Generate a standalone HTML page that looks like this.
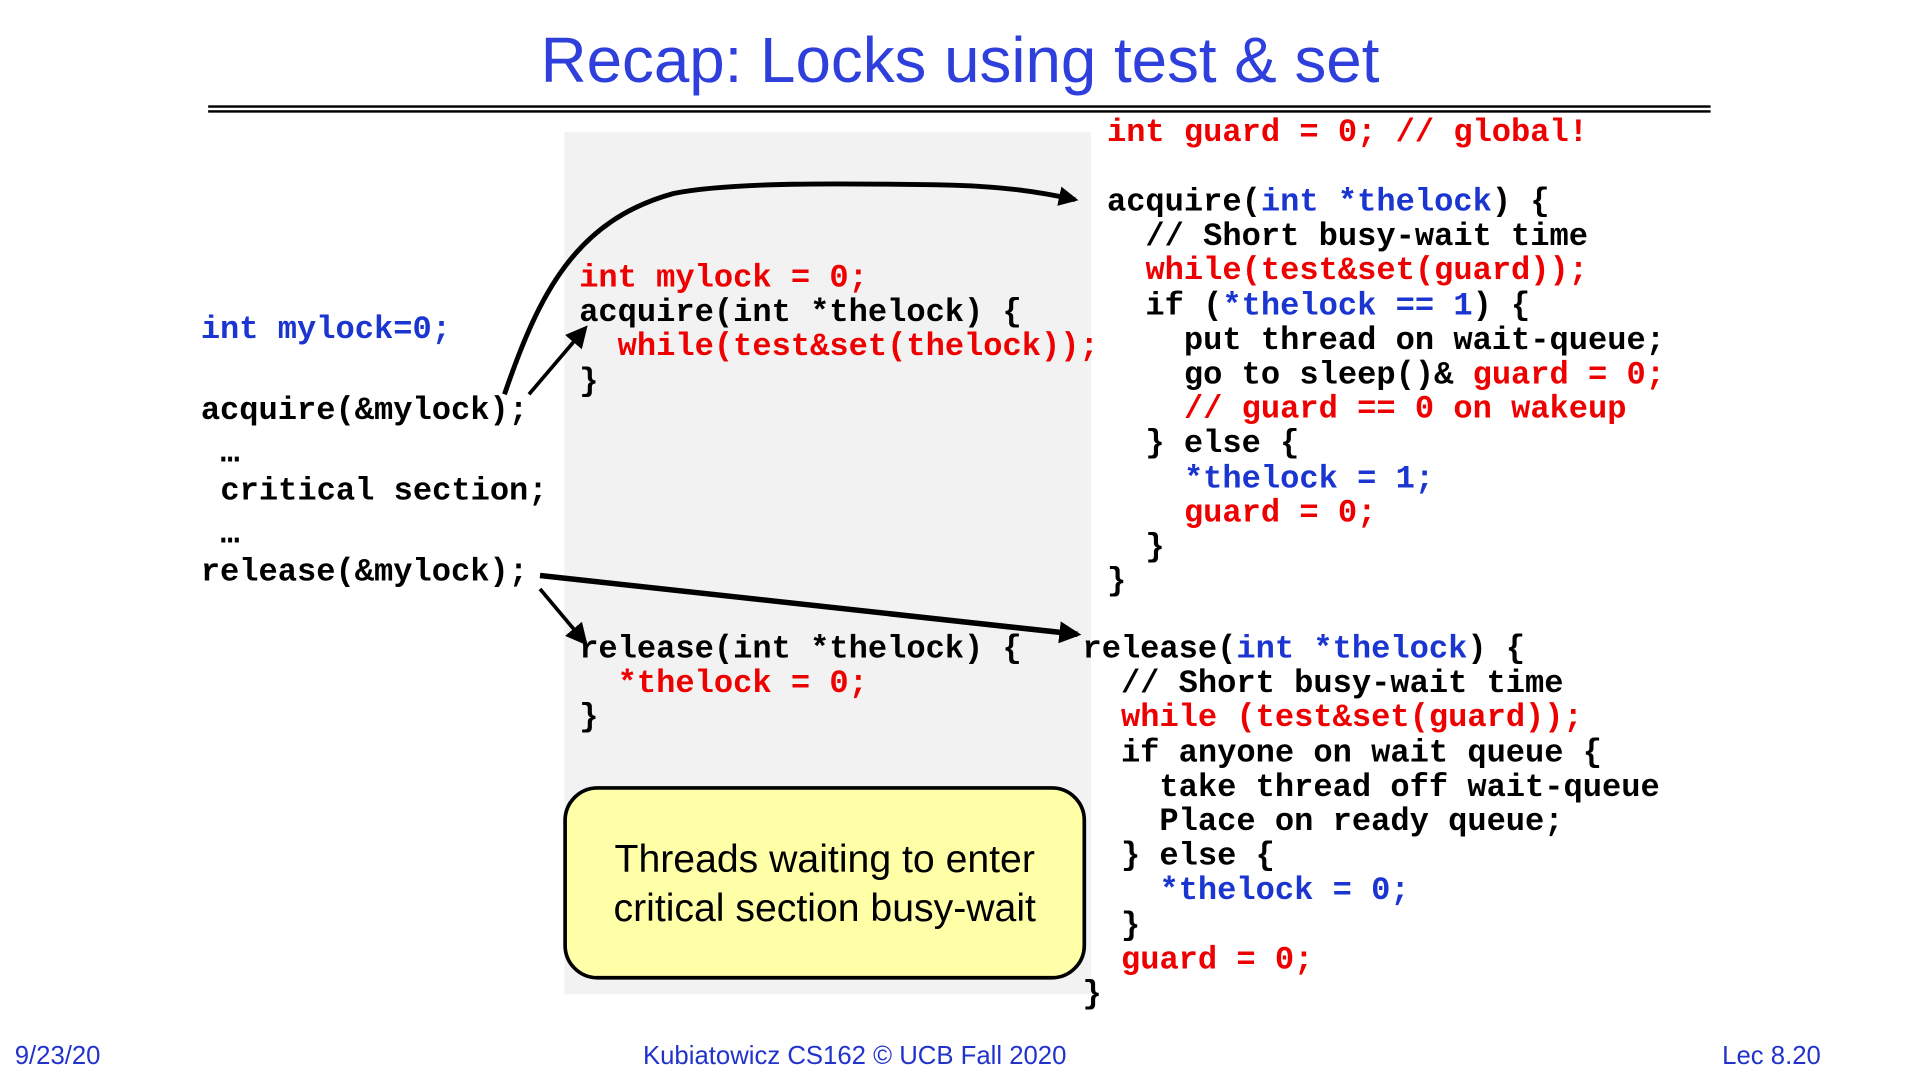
<!DOCTYPE html>
<html><head><meta charset="utf-8"><style>
html,body{margin:0;padding:0;background:#fff;width:1920px;height:1080px;overflow:hidden}
#s{position:absolute;left:0;top:0;width:1568px;height:882px;transform:scale(1.2245);transform-origin:0 0}
.c{position:absolute;font-family:"Liberation Mono",monospace;font-weight:bold;font-size:26.2px;line-height:28.2px;white-space:pre;color:#000}
.r{color:#ee0000}.b{color:#1a35d0}
.f{position:absolute;font-family:"Liberation Sans",sans-serif;color:#2233cc;font-size:21px;line-height:24px}
</style></head><body><div id="s">
<div style="position:absolute;left:0;width:1568px;top:19px;text-align:center;font-family:'Liberation Sans',sans-serif;font-size:52px;line-height:62px;color:#2e3fdc">Recap: Locks using test &amp; set</div>
<div style="position:absolute;left:170px;top:86px;width:1227px;height:2px;background:#000"></div>
<div style="position:absolute;left:170px;top:90px;width:1227px;height:2px;background:#000"></div>
<div style="position:absolute;left:461px;top:108px;width:430px;height:704px;background:#f2f2f2"></div>

<div class="c b" style="left:164px;top:255px">int mylock=0;</div>
<div class="c" style="left:164px;top:321px">acquire(&amp;mylock);</div>
<div class="c" style="left:180px;top:356px">…</div>
<div class="c" style="left:180px;top:387px">critical section;</div>
<div class="c" style="left:180px;top:422px">…</div>
<div class="c" style="left:164px;top:453px">release(&amp;mylock);</div>

<div class="c" style="left:473px;top:213px"><span class="r">int mylock = 0;</span>
acquire(int *thelock) {
  <span class="r">while(test&amp;set(thelock));</span>
}</div>
<div class="c" style="left:473px;top:516px">release(int *thelock) {
  <span class="r">*thelock = 0;</span>
}</div>

<div class="c r" style="left:904px;top:94px">int guard = 0; // global!</div>
<div class="c" style="left:904px;top:151px">acquire(<span class="b">int *thelock</span>) {
  // Short busy-wait time
  <span class="r">while(test&amp;set(guard));</span>
  if (<span class="b">*thelock == 1</span>) {
    put thread on wait-queue;
    go to sleep()&amp; <span class="r">guard = 0;</span>
    <span class="r">// guard == 0 on wakeup</span>
  } else {
    <span class="b">*thelock = 1;</span>
    <span class="r">guard = 0;</span>
  }
}</div>
<div class="c" style="left:884px;top:516px">release(<span class="b">int *thelock</span>) {
  // Short busy-wait time
  <span class="r">while (test&amp;set(guard));</span>
  if anyone on wait queue {
    take thread off wait-queue
    Place on ready queue;
  } else {
    <span class="b">*thelock = 0;</span>
  }
  <span class="r">guard = 0;</span>
}</div>

<div style="position:absolute;left:460px;top:642px;width:421px;height:152px;border:3px solid #000;border-radius:28px;background:#ffffa8"></div>
<div style="position:absolute;left:460px;top:681px;width:427px;text-align:center;font-family:'Liberation Sans',sans-serif;font-size:32px;line-height:40px;color:#000">Threads waiting to enter<br>critical section busy-wait</div>

<svg style="position:absolute;left:0;top:0" width="1568" height="882">
<defs><marker id="a" markerWidth="6" markerHeight="6" refX="5" refY="3" orient="auto" markerUnits="strokeWidth"><path d="M0,0 L6,3 L0,6 z" fill="#000"/></marker>
<marker id="a2" markerWidth="4" markerHeight="4" refX="3.3" refY="2" orient="auto" markerUnits="strokeWidth"><path d="M0,0 L4,2 L0,4 z" fill="#000"/></marker></defs>
<path d="M412,322 C440,240 470,180 550,158 C600,148 700,150 770,151 C820,152 850,157 878,163" stroke="#000" stroke-width="4" fill="none" marker-end="url(#a2)"/>
<line x1="432" y1="322" x2="478" y2="268" stroke="#000" stroke-width="3" marker-end="url(#a)"/>
<line x1="441" y1="470" x2="880" y2="518" stroke="#000" stroke-width="4.5" marker-end="url(#a2)"/>
<line x1="441" y1="481" x2="478" y2="525" stroke="#000" stroke-width="3" marker-end="url(#a)"/>
</svg>

<div class="f" style="left:12px;top:851px">9/23/20</div>
<div class="f" style="left:398px;width:600px;text-align:center;top:851px">Kubiatowicz CS162 © UCB Fall 2020</div>
<div class="f" style="left:1287px;width:200px;text-align:right;top:851px">Lec 8.20</div>
</div></body></html>
